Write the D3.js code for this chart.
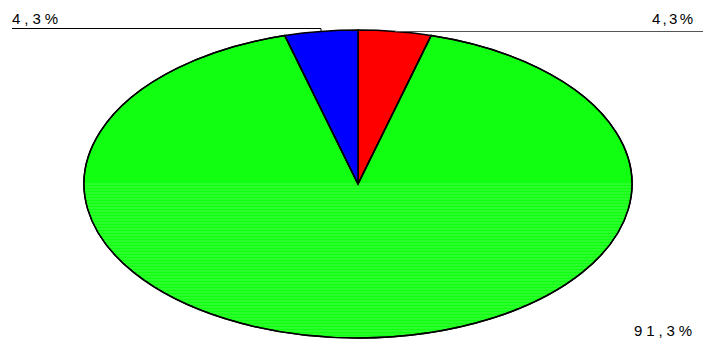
<!DOCTYPE html>
<html><head><meta charset="utf-8">
<script src="https://cdn.jsdelivr.net/npm/d3@7"></script>
<style>body{margin:0;background:#fff}svg{display:block}</style>
</head><body>
<script>
const categories = ["A", "B", "C"];
const values = [4.3, 91.3, 4.3];
const labels = ["4,3%", "91,3%", "4,3%"];
const colors = ["#ff0000", "#11ff11", "#0000ff"];

const W = 703, H = 340;
const cx = 358, cy = 184, rx = 274, ry = 154;
const svg = d3.select("body").append("svg").attr("width", W).attr("height", H);
const defs = svg.append("defs");

const pie = d3.pie().sort(null).value(d => d)(values);
const arc = d3.arc().innerRadius(0).outerRadius(1);
const tf = `translate(${cx},${cy}) scale(${rx},${ry})`;

const g = svg.append("g").attr("transform", tf);
g.selectAll("path").data(pie).join("path")
  .attr("d", arc)
  .attr("fill", (d, i) => colors[i])
  .attr("stroke", "#000").attr("stroke-width", 1.5)
  .attr("vector-effect", "non-scaling-stroke");

const clip = defs.append("clipPath").attr("id", "gclip");
clip.append("path").attr("d", arc(pie[1])).attr("transform", tf);
const stripes = svg.append("g").attr("clip-path", "url(#gclip)");
const ys = d3.range(cy, cy + ry + 2, 3);
stripes.selectAll("line").data(ys).join("line")
  .attr("x1", cx - rx).attr("x2", cx + rx).attr("y1", d => d).attr("y2", d => d)
  .attr("stroke", "#55ff55").attr("stroke-width", 1).attr("opacity", 0.8);
svg.append("path").attr("d", arc(pie[1])).attr("transform", tf)
  .attr("fill", "none").attr("stroke", "#000").attr("stroke-width", 1.5).attr("vector-effect", "non-scaling-stroke");

// leader lines
svg.append("polyline").attr("points", `12,28.5 321,28.5 321,32`).attr("fill", "none").attr("stroke", "#000").attr("stroke-width", 1);
svg.append("line").attr("x1", 395).attr("x2", 703).attr("y1", 31.5).attr("y2", 31.5).attr("stroke", "#555").attr("stroke-width", 1);

const tstyle = sel => sel.attr("font-family", "Liberation Sans, Arial, sans-serif").attr("font-size", 15).attr("fill", "#000").attr("lengthAdjust", "spacing");
svg.append("text").attr("x", 12).attr("y", 24).text(labels[2]).call(tstyle).attr("textLength", 46);
svg.append("text").attr("x", 652).attr("y", 24).text(labels[0]).call(tstyle).attr("textLength", 41);
svg.append("text").attr("x", 634).attr("y", 336).text(labels[1]).call(tstyle).attr("textLength", 58);
</script>
</body></html>
